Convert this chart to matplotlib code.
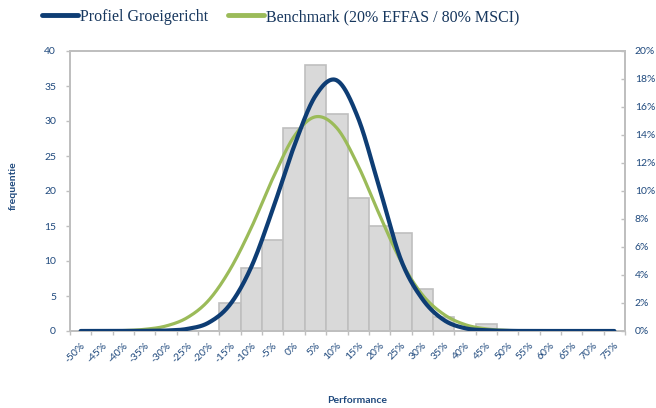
import numpy as np
import matplotlib
matplotlib.use("Agg")
import matplotlib.pyplot as plt
from matplotlib.ticker import FuncFormatter, MultipleLocator, FixedLocator

# ---- data ----
categories = ['-50%', '-45%', '-40%', '-35%', '-30%', '-25%', '-20%', '-15%', '-10%', '-5%',
              '0%', '5%', '10%', '15%', '20%', '25%', '30%', '35%', '40%', '45%',
              '50%', '55%', '60%', '65%', '70%', '75%']
frequentie = [0, 0, 0, 0, 0, 0, 0, 4, 9, 13, 29, 38, 31, 19, 15, 14, 6, 2, 0, 1,
              0, 0, 0, 0, 0, 0]
profiel = [0, 0, 0, 0.01, 0.03, 0.15, 0.6, 1.9, 4.6, 8.7, 13.2, 16.8, 17.9, 15.2, 10.2,
           5.1, 2.3, 0.8, 0.2, 0.05, 0.01, 0, 0, 0, 0, 0]
benchmark = [0, 0.01, 0.03, 0.12, 0.36, 0.96, 2.2, 4.4, 7.4, 10.9, 13.9, 15.3, 14.5, 11.8,
             8.3, 5.0, 2.6, 1.2, 0.46, 0.15, 0.04, 0.01, 0, 0, 0, 0]
series_names = ['Profiel Groeigericht', 'Benchmark (20% EFFAS / 80% MSCI)']

# ---- style ----
AXIS_GRAY = '#BFBFBF'
TXT_BLUE = '#1F497D'
BLUE = '#0E3D74'
GREEN = '#9BBB59'
tick_font = ['Lato', 'DejaVu Sans']


def smooth(xs, ys, n=24):
    """Excel-like smoothed line (Catmull-Rom / cubic Bezier through the points)."""
    xs = np.asarray(xs, float)
    ys = np.asarray(ys, float)
    px = np.concatenate([[xs[0]], xs, [xs[-1]]])
    py = np.concatenate([[ys[0]], ys, [ys[-1]]])
    outx, outy = [], []
    t = np.linspace(0, 1, n, endpoint=False)
    for i in range(1, len(px) - 2):
        p0 = np.array([px[i], py[i]])
        p3 = np.array([px[i + 1], py[i + 1]])
        c1 = p0 + (np.array([px[i + 1], py[i + 1]]) - np.array([px[i - 1], py[i - 1]])) / 6
        c2 = p3 - (np.array([px[i + 2], py[i + 2]]) - np.array([px[i], py[i]])) / 6
        b = ((1 - t) ** 3)[:, None] * p0 + (3 * (1 - t) ** 2 * t)[:, None] * c1 + \
            (3 * (1 - t) * t ** 2)[:, None] * c2 + (t ** 3)[:, None] * p3
        outx.extend(b[:, 0])
        outy.extend(b[:, 1])
    outx.append(xs[-1])
    outy.append(ys[-1])
    return np.array(outx), np.array(outy)


fig = plt.figure(figsize=(6.56, 4.08), dpi=100)
ax = fig.add_axes([70 / 656, 1 - 331 / 408, 555 / 656, 280 / 408])
x = np.arange(len(categories))

ax.bar(x, frequentie, width=1.0, color='#D9D9D9', edgecolor=AXIS_GRAY, linewidth=1.2, zorder=2)
ax.set_xlim(-0.5, len(categories) - 0.5)
ax.set_ylim(0, 40)
ax.yaxis.set_major_locator(MultipleLocator(5))

ax.set_xticks(x)
ax.set_xticklabels(categories, rotation=45, ha='right', va='top', rotation_mode='anchor',
                   fontsize=7.5, color=TXT_BLUE, family=tick_font)
ax.xaxis.set_minor_locator(FixedLocator(np.arange(-0.5, len(categories), 1.0)))
ax.tick_params(axis='x', which='major', length=0, pad=7)
ax.tick_params(axis='x', which='minor', length=3, color=AXIS_GRAY, width=1, direction='out')
ax.tick_params(axis='y', which='major', length=3, color=AXIS_GRAY, width=1, direction='out',
               labelsize=7.5, labelcolor=TXT_BLUE, pad=7)
for lab in ax.get_yticklabels():
    lab.set_family(tick_font)

for s in ax.spines.values():
    s.set_color(AXIS_GRAY)
    s.set_linewidth(1.3)

ax.set_ylabel('frequentie', fontsize=7.5, fontweight='bold', color=TXT_BLUE, family=tick_font)
ax.yaxis.set_label_coords(-0.094, 0.52)
ax.set_xlabel('Performance', fontsize=7.5, fontweight='bold', color=TXT_BLUE, family=tick_font)
ax.xaxis.set_label_coords(0.517, -0.232)

ax2 = ax.twinx()
ax2.set_ylim(0, 20)
ax2.yaxis.set_major_locator(MultipleLocator(2))
ax2.yaxis.set_major_formatter(FuncFormatter(lambda v, p: f'{v:.0f}%'))
ax2.tick_params(axis='y', length=3, color=AXIS_GRAY, width=1, direction='in',
                labelsize=7.5, labelcolor=TXT_BLUE, pad=7)
for lab in ax2.get_yticklabels():
    lab.set_family(tick_font)
for s in ax2.spines.values():
    s.set_color(AXIS_GRAY)
    s.set_linewidth(1.3)

sx, sy = smooth(x, profiel)
l1, = ax2.plot(sx, sy, color=BLUE, linewidth=3.0, solid_capstyle='round', label=series_names[0], zorder=4)
gx, gy = smooth(x, benchmark)
l2, = ax2.plot(gx, gy, color=GREEN, linewidth=2.3, solid_capstyle='round', label=series_names[1], zorder=3)

leg = fig.legend(handles=[l1, l2], loc='center left', bbox_to_anchor=(42 / 656, 1 - 17 / 408),
                 ncol=2, frameon=False, borderpad=0, borderaxespad=0,
                 handlelength=2.25, handletextpad=0.1, columnspacing=1.3,
                 prop={'family': ['Liberation Serif', 'DejaVu Serif'], 'size': 11.5})
for t in leg.get_texts():
    t.set_color('#17375E')
for h in leg.legend_handles:
    h.set_linewidth(3.5)

fig.savefig('out.png', dpi=100)
